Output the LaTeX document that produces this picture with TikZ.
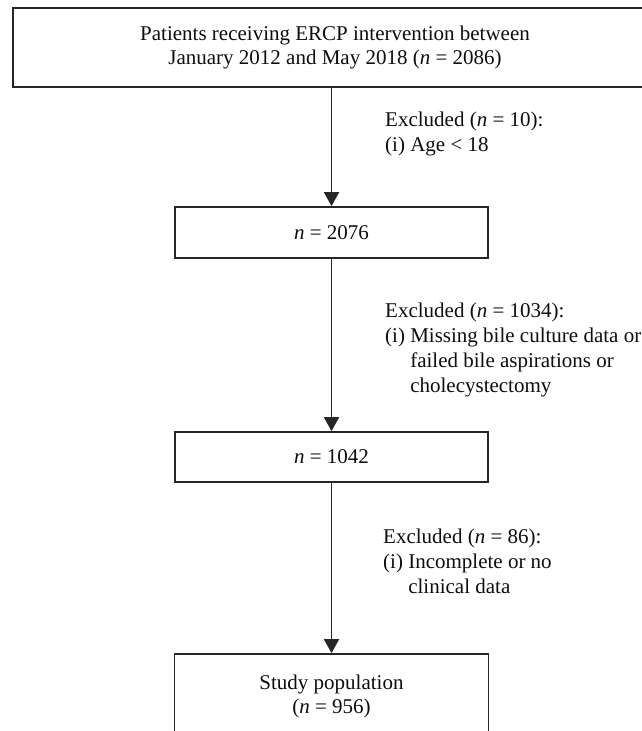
\documentclass[tikz,border=0pt]{standalone}
\usepackage{fontspec}
\setmainfont{Liberation Serif}
\usetikzlibrary{arrows.meta}
\begin{document}
\begin{tikzpicture}[x=1pt,y=-1pt,
  box/.style={draw=black!85,line width=1.7pt,inner sep=0pt,align=center,text=black!95,font=\fontsize{21}{24.5}\selectfont},
  note/.style={anchor=west,inner sep=0pt,align=left,text=black!95,font=\fontsize{21}{25}\selectfont},
  flow/.style={draw=black!85,line width=1.7pt,-{Triangle[width=15pt,length=14pt]}}]
\useasboundingbox (0,0) rectangle (642,731);
\clip (0,0) rectangle (642,731);
\node[box,minimum width=644pt,minimum height=79pt] (top) at (335,47.5)
  {Patients receiving ERCP intervention between\\January 2012 and May 2018 (\textit{n} = 2086)};
\node[box,minimum width=313pt,minimum height=51pt] (b2) at (331.5,232.5) {\textit{n} = 2076};
\node[box,minimum width=313pt,minimum height=50pt] (b3) at (331.5,457) {\textit{n} = 1042};
\node[box,minimum width=314pt,minimum height=85pt] (b4) at (331.5,696.5)
  {Study population\\(\textit{n} = 956)};
\coordinate (s1) at (b2.north |- top.south);
\draw[flow] (s1) -- (b2.north);
\draw[flow] (b2.south) -- (b3.north);
\draw[flow] (b3.south) -- (b4.north);
\node[note] (e1) at (385,134) {Excluded (\textit{n} = 10):\\(i) Age {<} 18};
\node[note] (e2) at (385,349.5) {Excluded (\textit{n} = 1034):\\(i) Missing bile culture data or\\\phantom{(i) }failed bile aspirations or\\\phantom{(i) }cholecystectomy};
\node[note] (e3) at (383,563.5) {Excluded (\textit{n} = 86):\\(i) Incomplete or no\\\phantom{(i) }clinical data};
\end{tikzpicture}
\end{document}
